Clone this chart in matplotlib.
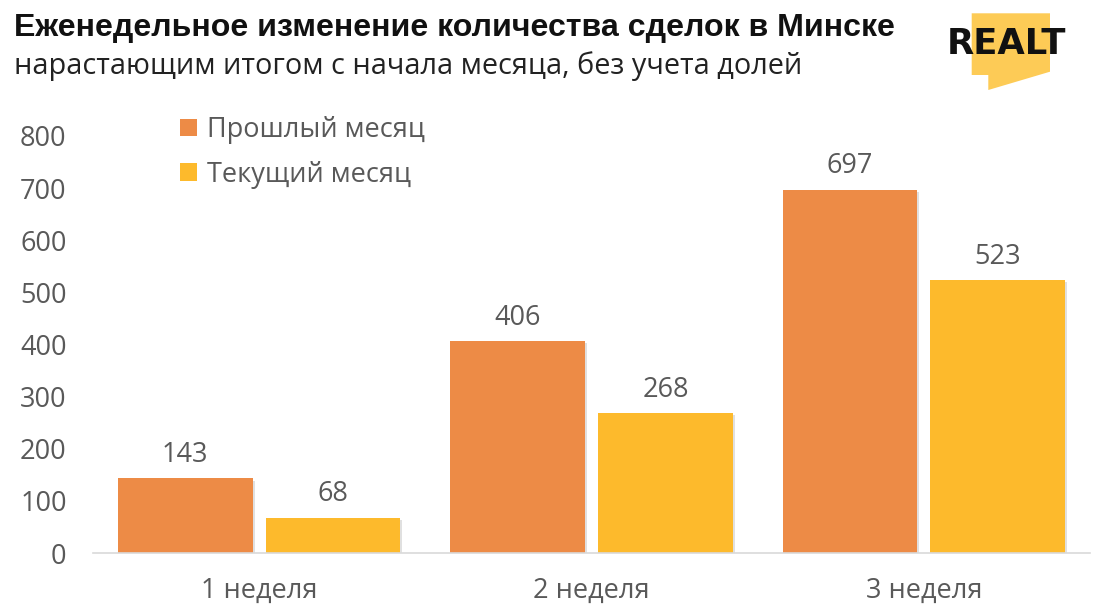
import matplotlib
matplotlib.use("Agg")
import matplotlib.pyplot as plt
import matplotlib.patheffects as pe
from matplotlib.patches import Polygon
import numpy as np

categories = ["1 неделя", "2 неделя", "3 неделя"]
series_names = ["Прошлый месяц", "Текущий месяц"]
prev_month = [143, 406, 697]
curr_month = [68, 268, 523]
yticks = [0, 100, 200, 300, 400, 500, 600, 700, 800]

title = "Еженедельное изменение количества сделок в Минске"
subtitle = "нарастающим итогом с начала месяца, без учета долей"

ORANGE = "#ED8B46"
YELLOW = "#FDBA2C"
GRAY = "#595959"
FONT = "Open Sans"
FS = 19.5
W, H = 1100, 616

fig = plt.figure(figsize=(W / 100, H / 100), dpi=100)
ax = fig.add_axes([93 / W, 63 / H, (1090 - 93) / W, (553 - 136) / H])

x = np.arange(len(categories))
bw = 0.405
off = 0.2225
shadow = [pe.SimplePatchShadow(offset=(1.5, -1.5), shadow_rgbFace="#000000", alpha=0.12), pe.Normal()]
b1 = ax.bar(x - off, prev_month, bw, color=ORANGE, label=series_names[0], zorder=3)
b2 = ax.bar(x + off, curr_month, bw, color=YELLOW, label=series_names[1], zorder=3)
for r in list(b1) + list(b2):
    r.set_path_effects(shadow)

for bars, vals in ((b1, prev_month), (b2, curr_month)):
    for r, v in zip(bars, vals):
        ax.text(r.get_x() + r.get_width() / 2, v + 18, str(v), ha="center", va="bottom",
                fontsize=FS, color=GRAY, family=FONT, clip_on=False)

ax.set_xlim(-0.5, 2.5)
ax.set_ylim(0, 800)
ax.set_yticks(yticks)
ax.set_yticklabels([str(t) for t in yticks], fontsize=FS, color=GRAY, family=FONT)
ax.set_xticks(x)
ax.set_xticklabels(categories, fontsize=FS, color=GRAY, family=FONT)
ax.tick_params(axis="y", length=0, pad=19)
ax.tick_params(axis="x", length=0, pad=17)
for s in ("top", "right", "left"):
    ax.spines[s].set_visible(False)
ax.spines["bottom"].set_color("#D9D9D9")
ax.spines["bottom"].set_linewidth(1.2)
ax.spines["bottom"].set_zorder(4)

leg = ax.legend(loc="upper left", bbox_to_anchor=(156 / W, 1 - 92 / H), bbox_transform=fig.transFigure,
                frameon=False, prop={"family": FONT, "size": FS}, handlelength=0.6, handleheight=0.6,
                handletextpad=0.4, labelspacing=0.6, labelcolor=GRAY)
for h in leg.legend_handles:
    h.set_path_effects([])

fig.text(14 / W, 1 - 28 / H, title, fontsize=23.1, fontweight="bold", color="#111111",
         family="Liberation Sans", va="center", ha="left")
fig.text(14 / W, 1 - 66 / H, subtitle, fontsize=20.8, color="#222222",
         family="Open Sans", va="center", ha="left")

# logo
pts = [(971.7, 13.3), (1050, 13.3), (1050, 71.7), (988.3, 90), (988.3, 75), (971.7, 75)]
poly = Polygon([(px / W, 1 - py / H) for px, py in pts], closed=True, transform=fig.transFigure,
               facecolor="#FDCB56", edgecolor="none")
fig.patches.append(poly)
fig.text(1007 / W, 1 - 44 / H, "REALT", fontsize=25.5, fontweight="bold", family="DejaVu Sans",
         color="#111111", ha="center", va="center")

fig.savefig("out.png", dpi=100)
